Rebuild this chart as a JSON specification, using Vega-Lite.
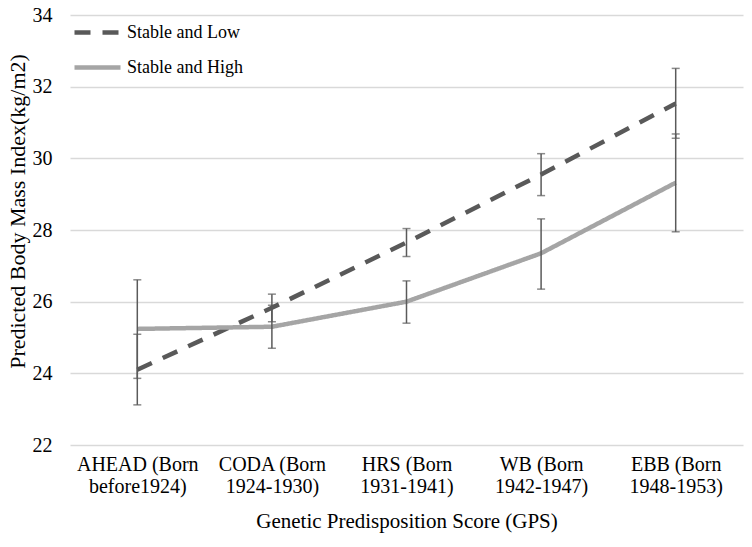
{
  "$schema": "https://vega.github.io/schema/vega-lite/v6.json",
  "width": 673,
  "height": 430,
  "autosize": "none",
  "padding": {"left": 70, "top": 15, "right": 9, "bottom": 102},
  "background": "white",
  "config": {
    "view": {"stroke": null},
    "font": "Liberation Serif"
  },
  "data": {
    "values": [
      {"group": "Stable and Low", "cohort": "AHEAD (Born before1924)", "bmi": 24.1, "lower": 23.12, "upper": 25.09},
      {"group": "Stable and Low", "cohort": "CODA (Born 1924-1930)", "bmi": 25.83, "lower": 25.44, "upper": 26.21},
      {"group": "Stable and Low", "cohort": "HRS (Born 1931-1941)", "bmi": 27.65, "lower": 27.26, "upper": 28.04},
      {"group": "Stable and Low", "cohort": "WB (Born 1942-1947)", "bmi": 29.55, "lower": 28.96, "upper": 30.13},
      {"group": "Stable and Low", "cohort": "EBB (Born 1948-1953)", "bmi": 31.53, "lower": 30.56, "upper": 32.51},
      {"group": "Stable and High", "cohort": "AHEAD (Born before1924)", "bmi": 25.24, "lower": 23.86, "upper": 26.61},
      {"group": "Stable and High", "cohort": "CODA (Born 1924-1930)", "bmi": 25.3, "lower": 24.7, "upper": 25.9},
      {"group": "Stable and High", "cohort": "HRS (Born 1931-1941)", "bmi": 26.0, "lower": 25.4, "upper": 26.58},
      {"group": "Stable and High", "cohort": "WB (Born 1942-1947)", "bmi": 27.35, "lower": 26.35, "upper": 28.31},
      {"group": "Stable and High", "cohort": "EBB (Born 1948-1953)", "bmi": 29.32, "lower": 27.95, "upper": 30.68}
    ]
  },
  "encoding": {
    "x": {
      "field": "cohort",
      "type": "nominal",
      "sort": null,
      "scale": {"type": "point", "padding": 0.5},
      "axis": {
        "title": "Genetic Predisposition Score (GPS)",
        "titleFont": "Liberation Serif",
        "titleFontSize": 21,
        "titleFontWeight": "normal",
        "titleColor": "#000000",
        "titleBaseline": "alphabetic",
        "titleY": 82,
        "labelFont": "Liberation Serif",
        "labelFontSize": 20,
        "labelColor": "#000000",
        "labelAngle": 0,
        "labelPadding": 9,
        "labelLineHeight": 22,
        "labelExpr": "[slice(datum.value, 0, indexof(datum.value, 'Born') + 4), slice(datum.value, indexof(datum.value, 'Born') + 5)]",
        "domain": false,
        "ticks": false,
        "grid": false
      }
    }
  },
  "layer": [
    {
      "mark": {"type": "line", "strokeWidth": 4.5, "strokeCap": "butt"},
      "encoding": {
        "y": {
          "field": "bmi",
          "type": "quantitative",
          "scale": {"domain": [22, 34], "zero": false, "nice": false},
          "axis": {
            "title": "Predicted Body Mass Index(kg/m2)",
            "titleFont": "Liberation Serif",
            "titleFontSize": 22,
            "titleFontWeight": "normal",
            "titleColor": "#000000",
            "titleBaseline": "alphabetic",
            "titleX": -46,
            "titleY": 196,
            "labelFont": "Liberation Serif",
            "labelFontSize": 20,
            "labelColor": "#000000",
            "labelPadding": 18,
            "values": [22, 24, 26, 28, 30, 32, 34],
            "domain": false,
            "ticks": false,
            "grid": true,
            "gridColor": "#d9d9d9",
            "gridWidth": 1.3
          }
        },
        "color": {
          "field": "group",
          "type": "nominal",
          "sort": ["Stable and Low", "Stable and High"],
          "scale": {"domain": ["Stable and Low", "Stable and High"], "range": ["#595959", "#a5a5a5"]},
          "legend": {
            "title": null,
            "orient": "none",
            "legendX": 2,
            "legendY": -8,
            "symbolType": "stroke",
            "symbolSize": 2116,
            "symbolStrokeWidth": 4.5,
            "rowPadding": -8,
            "labelFont": "Liberation Serif",
            "labelFontSize": 18,
            "labelColor": "#000000",
            "labelOffset": 4
          }
        },
        "strokeDash": {
          "field": "group",
          "type": "nominal",
          "sort": ["Stable and Low", "Stable and High"],
          "scale": {"domain": ["Stable and Low", "Stable and High"], "range": [[16, 12], [1, 0]]},
          "legend": null
        }
      }
    },
    {
      "mark": {"type": "rule", "color": "#5a5a5a", "strokeWidth": 1.5},
      "encoding": {
        "y": {"field": "lower", "type": "quantitative"},
        "y2": {"field": "upper"}
      }
    },
    {
      "mark": {"type": "tick", "color": "#5a5a5a", "thickness": 1.5, "size": 8, "orient": "horizontal"},
      "encoding": {
        "y": {"field": "lower", "type": "quantitative"}
      }
    },
    {
      "mark": {"type": "tick", "color": "#5a5a5a", "thickness": 1.5, "size": 8, "orient": "horizontal"},
      "encoding": {
        "y": {"field": "upper", "type": "quantitative"}
      }
    }
  ]
}
